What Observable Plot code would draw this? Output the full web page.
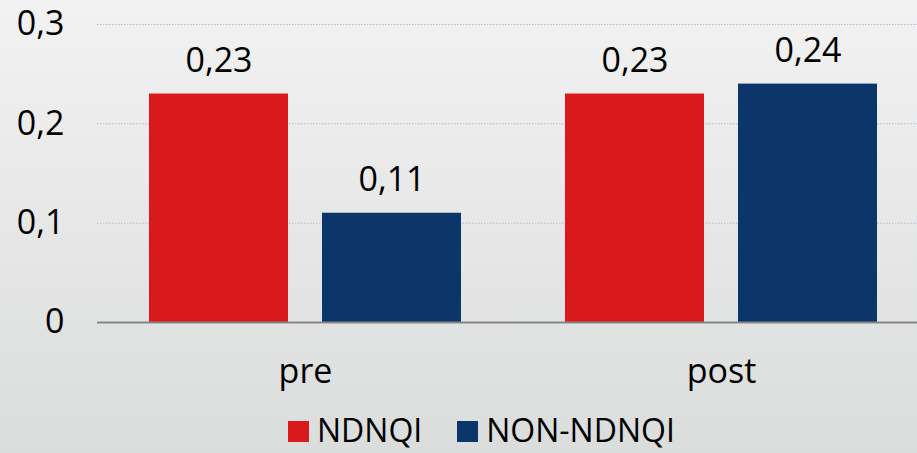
<!DOCTYPE html>
<html>
<head>
<meta charset="utf-8">
<script src="https://cdn.jsdelivr.net/npm/d3@7"></script>
<script src="https://cdn.jsdelivr.net/npm/@observablehq/plot@0.6"></script>
<style>
  html, body { margin: 0; padding: 0; }
  body {
    width: 917px; height: 453px; overflow: hidden;
    background: linear-gradient(#f2f2f2, #dbdcdc);
    font-family: "Open Sans", Lato, sans-serif;
  }
  #chart svg { display: block; background: transparent; }
  .legend {
    display: flex; justify-content: flex-start; align-items: flex-start;
    box-sizing: border-box; height: 48px; padding-top: 9px; padding-left: 288px;
    font-size: 32px; line-height: 32px; color: #000;
  }
  .legend .item { display: flex; align-items: center; height: 32px; margin-right: 35px; }
  .legend .sw { width: 21px; height: 21px; margin-right: 8px; margin-top: 2px; }
</style>
</head>
<body>
<div id="chart"></div>
<div class="legend" id="legend"></div>
<script>
const groups = ["pre", "post"];
const series = ["NDNQI", "NON-NDNQI"];
const ndnqi = [0.23, 0.23];
const nonNdnqi = [0.11, 0.24];
const yTicks = [0, 0.1, 0.2, 0.3];
const colors = ["#d9191b", "#0c356a"];

const fmt = d => d3.format(".2~f")(d).replace(".", ",");

const rows = [];
groups.forEach((g, i) => {
  rows.push({group: g, series: series[0], value: ndnqi[i]});
  rows.push({group: g, series: series[1], value: nonNdnqi[i]});
});
const first = rows.filter(d => d.series === series[0]);
const second = rows.filter(d => d.series === series[1]);

// each group band is 312px wide; a bar takes 139px of it
const band = 312, barW = 139, shift = (band - barW) / 2;

const chart = Plot.plot({
  width: 917,
  height: 405,
  marginTop: 24,
  marginBottom: 83,
  marginLeft: 97,
  marginRight: 0,
  style: {fontFamily: "'Open Sans', Lato, sans-serif", color: "#000", background: "transparent"},
  x: {type: "band", domain: groups, range: [97, 929], paddingInner: 0.25, paddingOuter: 0.125},
  y: {domain: [0, 0.3]},
  marks: [
    Plot.ruleY(yTicks.filter(t => t > 0), {stroke: "#a9bdd6", strokeWidth: 1, strokeDasharray: "1.5,1.5"}),
    Plot.barY(first, {x: "group", y: "value", fill: colors[0], insetRight: band - barW}),
    Plot.barY(second, {x: "group", y: "value", fill: colors[1], insetLeft: band - barW}),
    Plot.text(first, {x: "group", y: "value", text: d => fmt(d.value), dx: -shift, dy: -33, fontSize: 34, fill: "#000"}),
    Plot.text(second, {x: "group", y: "value", text: d => fmt(d.value), dx: shift, dy: -33, fontSize: 34, fill: "#000"}),
    Plot.ruleY([0], {stroke: "#868686", strokeWidth: 2}),
    Plot.axisY({ticks: yTicks, tickFormat: fmt, tickSize: 0, tickPadding: 33, fontSize: 34, label: null}),
    Plot.axisX({tickSize: 0, tickPadding: 36, fontSize: 34, label: null})
  ]
});
document.getElementById("chart").appendChild(chart);

const legend = document.getElementById("legend");
series.forEach((s, i) => {
  const item = document.createElement("div");
  item.className = "item";
  const sw = document.createElement("span");
  sw.className = "sw";
  sw.style.background = colors[i];
  const label = document.createElement("span");
  label.textContent = s;
  item.appendChild(sw);
  item.appendChild(label);
  legend.appendChild(item);
});
</script>
</body>
</html>
